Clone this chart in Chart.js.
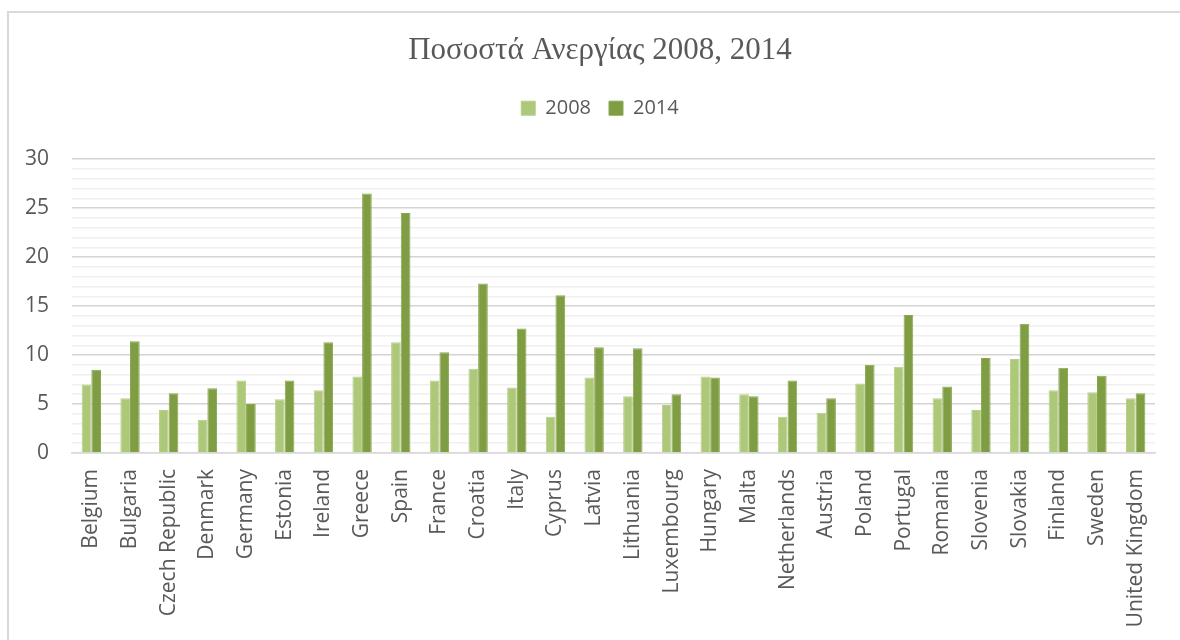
<!DOCTYPE html>
<html>
<head>
<meta charset="utf-8">
<script src="https://cdn.jsdelivr.net/npm/chart.js@4.4.1/dist/chart.umd.min.js"></script>
<style>
  html, body { margin: 0; padding: 0; background: #ffffff; }
  #wrap { position: relative; width: 1180px; height: 640px; overflow: hidden; }
  #frame { position: absolute; left: 7px; top: 11px; width: 1200px; height: 700px;
           border-left: 2px solid #d9d9d9; border-top: 2px solid #d9d9d9; box-sizing: border-box; }
  #c { position: absolute; left: 0; top: 0; }
</style>
</head>
<body>
<div id="wrap">
  <div id="frame"></div>
  <canvas id="c" width="1180" height="640"></canvas>
</div>
<script>
const countries = ["Belgium","Bulgaria","Czech Republic","Denmark","Germany","Estonia","Ireland","Greece","Spain","France","Croatia","Italy","Cyprus","Latvia","Lithuania","Luxembourg","Hungary","Malta","Netherlands","Austria","Poland","Portugal","Romania","Slovenia","Slovakia","Finland","Sweden","United Kingdom"];
const rate2008 = [7.0,5.6,4.4,3.4,7.4,5.5,6.4,7.8,11.3,7.4,8.6,6.7,3.7,7.7,5.8,4.9,7.8,6.0,3.7,4.1,7.1,8.8,5.6,4.4,9.6,6.4,6.2,5.6];
const rate2014 = [8.5,11.4,6.1,6.6,5.0,7.4,11.3,26.5,24.5,10.3,17.3,12.7,16.1,10.8,10.7,6.0,7.7,5.8,7.4,5.6,9.0,14.1,6.8,9.7,13.2,8.7,7.9,6.1];
const seriesNames = ["2008","2014"];
const yTickLabels = [0,5,10,15,20,25,30];
const titleText = "Ποσοστά Ανεργίας 2008, 2014";

const legendSpacer = {
  id: 'legendSpacer',
  beforeInit(chart) {
    const orig = chart.legend.fit;
    chart.legend.fit = function () {
      orig.call(this);
      this.height += 31;
    };
  },
  afterLayout(chart) {
    // original chart frame is wider than the visible window; recentre title and legend
    const shift = 22.5;
    [chart.titleBlock, chart.legend].forEach((b) => {
      if (b) { b.left += shift; b.right += shift; }
    });
  }
};

new Chart(document.getElementById('c'), {
  type: 'bar',
  data: {
    labels: countries,
    datasets: [
      { label: seriesNames[0], data: rate2008, backgroundColor: '#aec87a', borderColor: '#b8cf8a', borderWidth: 1 },
      { label: seriesNames[1], data: rate2014, backgroundColor: '#7f9d42', borderColor: '#8aa651', borderWidth: 1 }
    ]
  },
  options: {
    responsive: false,
    animation: false,
    devicePixelRatio: 1,
    categoryPercentage: 0.5,
    barPercentage: 1.0,
    layout: { padding: { left: 0, right: 25, top: 0, bottom: 0 } },
    plugins: {
      title: {
        display: true,
        text: titleText,
        color: '#595959',
        font: { family: 'Liberation Serif', size: 31, weight: 'normal' },
        padding: { top: 32, bottom: 11 }
      },
      legend: {
        display: true,
        position: 'top',
        labels: {
          boxWidth: 14, boxHeight: 14,
          padding: 18,
          color: '#595959',
          font: { family: 'Open Sans', size: 20 }
        }
      },
      tooltip: { enabled: false }
    },
    scales: {
      x: {
        grid: { display: false, drawTicks: false },
        border: { display: true, color: '#d9d9d9', width: 1.5 },
        ticks: {
          autoSkip: false, maxRotation: 90, minRotation: 90,
          padding: 16, color: '#595959',
          font: { family: 'Open Sans', size: 21 }
        },
        afterFit(scale) { scale.height = 187; }
      },
      y: {
        min: 0, max: 30,
        border: { display: false },
        grid: {
          drawTicks: false,
          color: (ctx) => (yTickLabels.includes(ctx.tick.value) ? '#d4d4d4' : '#f0f0f0'),
          lineWidth: 1.5
        },
        ticks: {
          stepSize: 1, autoSkip: false, padding: 23, color: '#595959',
          font: { family: 'Open Sans', size: 21 },
          callback: (v) => (yTickLabels.includes(v) ? String(v) : '')
        },
        afterFit(scale) { scale.width = 72; }
      }
    }
  },
  plugins: [legendSpacer]
});
</script>
</body>
</html>
